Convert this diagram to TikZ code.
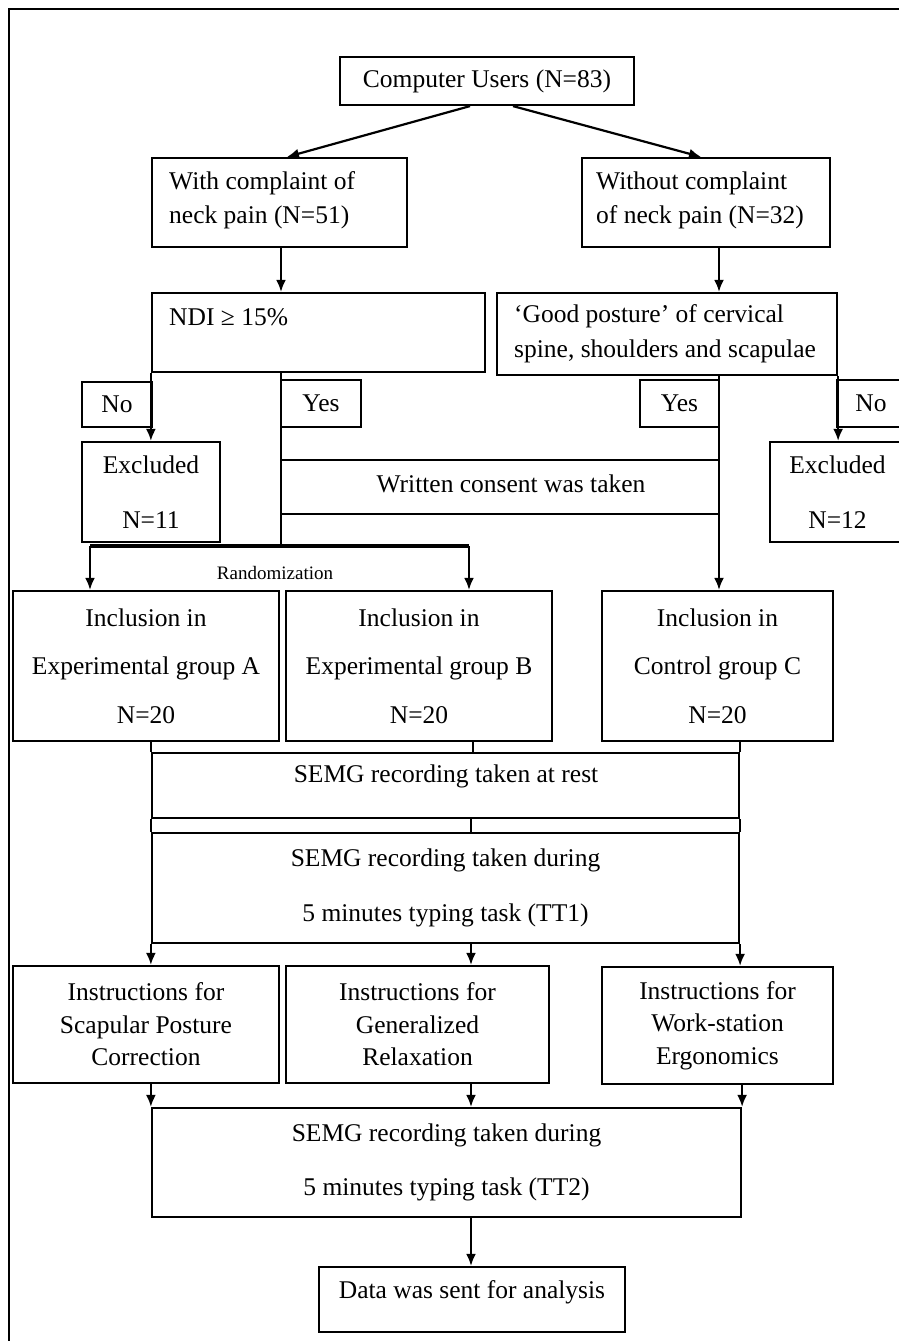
\documentclass[tikz,border=0pt]{standalone}
\usepackage{fontspec}
\setmainfont{Liberation Serif}
\usetikzlibrary{arrows.meta}
\begin{document}
\begin{tikzpicture}[x=1pt,y=-1pt,
  box/.style={draw, line width=2.2pt, inner sep=0pt, align=center, font=\fontsize{25.5}{30}\selectfont},
  ln/.style={line width=2.2pt},
  arr/.style={line width=2.2pt, -{Latex[length=12pt,width=10pt]}},
  txt/.style={inner sep=0pt, font=\fontsize{25.5}{30}\selectfont},
]
\useasboundingbox (0,0) rectangle (899,1341);
\clip (0,0) rectangle (899,1341);
% frame
\draw[line width=2.5pt] (9,1350) -- (9,9) -- (910,9);

% top
\node[box, minimum width=294pt, minimum height=48pt] (cu) at (487,81) {Computer Users (N=83)};
\node[box, minimum width=255pt, minimum height=89pt] (wc) at (279.5,202.5) {};
\node[txt, anchor=west, align=left, font=\fontsize{25.5}{34}\selectfont] (wctx) at (169,200) {With complaint of\\neck pain (N=51)};
\node[box, minimum width=248pt, minimum height=89pt] (woc) at (706,202.5) {};
\node[txt, anchor=west, align=left, font=\fontsize{25.5}{34}\selectfont] (woctx) at (596,200) {Without complaint\\of neck pain (N=32)};

\node[box, minimum width=333pt, minimum height=79pt] (ndi) at (318.5,332.5) {};
\node[txt, anchor=west] (nditx) at (169,317) {NDI ≥ 15\%};
\node[box, minimum width=340pt, minimum height=82pt] (gp) at (667,334) {};
\node[txt, anchor=west, align=left, font=\fontsize{25.5}{35}\selectfont] (gptx) at (514,333.5) {‘Good posture’ of cervical\\spine, shoulders and scapulae};

\node[box, minimum width=70pt, minimum height=45pt] (noL) at (117,404.5) {No};
\node[box, minimum width=80pt, minimum height=47pt] (yesL) at (321,403.5) {Yes};
\node[box, minimum width=79pt, minimum height=47pt] (yesR) at (679.5,403.5) {Yes};
\node[box, minimum width=68pt, minimum height=47pt] (noR) at (871,403.5) {No};

\node[box, minimum width=138pt, minimum height=100pt, font=\fontsize{25.5}{55}\selectfont] (exL) at (151,492) {Excluded\\N=11};
\node[box, minimum width=135pt, minimum height=100pt, font=\fontsize{25.5}{55}\selectfont] (exR) at (837.5,492) {Excluded\\N=12};

\node[box, minimum width=438pt, minimum height=54pt] (wct) at (500,487) {};
\node[txt] (wcttx) at (511,484) {Written consent was taken};

\node[txt, font=\fontsize{19}{20}\selectfont] (rnd) at (275,573) {Randomization};

% inclusion
\node[box, minimum width=266pt, minimum height=150pt, font=\fontsize{25.5}{48.5}\selectfont] (incA) at (146,666) {Inclusion in\\Experimental group A\\N=20};
\node[box, minimum width=266pt, minimum height=150pt, font=\fontsize{25.5}{48.5}\selectfont] (incB) at (419,666) {Inclusion in\\Experimental group B\\N=20};
\node[box, minimum width=231pt, minimum height=150pt, font=\fontsize{25.5}{48.5}\selectfont] (incC) at (717.5,666) {Inclusion in\\Control group C\\N=20};

% SEMG
\node[box, minimum width=587pt, minimum height=65pt] (rest) at (445.5,785.5) {};
\node[txt] (resttx) at (446,776) {SEMG recording taken at rest};
\node[box, minimum width=587pt, minimum height=110pt, font=\fontsize{25.5}{55}\selectfont] (tt1) at (445.5,888) {SEMG recording taken during\\5 minutes typing task (TT1)};

% instructions
\node[box, minimum width=266pt, minimum height=117pt, font=\fontsize{25.5}{32.5}\selectfont] (insA) at (146,1024.5) {Instructions for\\Scapular Posture\\Correction};
\node[box, minimum width=263pt, minimum height=117pt, font=\fontsize{25.5}{32.5}\selectfont] (insB) at (417.5,1024.5) {Instructions for\\Generalized\\Relaxation};
\node[box, minimum width=231pt, minimum height=117pt, font=\fontsize{25.5}{32.5}\selectfont] (insC) at (717.5,1025.5) {Instructions for\\Work-station\\Ergonomics};

\node[box, minimum width=589pt, minimum height=109pt, font=\fontsize{25.5}{54}\selectfont] (tt2) at (446.5,1162.5) {SEMG recording taken during\\5 minutes typing task (TT2)};

\node[box, minimum width=306pt, minimum height=65pt] (data) at (472,1299.5) {};
\node[txt] (datatx) at (472,1292) {Data was sent for analysis};

% coordinates
\coordinate (colR) at (719,375);
\coordinate (rL) at (90,546);
\coordinate (rR) at (469,546);
\coordinate (rY) at (281,546);
\coordinate (mB) at (473,753);
\coordinate (mid) at (471,900);

% connectors
\draw[arr] ([xshift=-17pt]cu.south) -- ([xshift=7.5pt]wc.north);
\draw[arr] ([xshift=26pt]cu.south) -- ([xshift=-5pt]woc.north);
\draw[arr] (wc.south -| rY) -- (ndi.north -| rY);
\draw[arr] (woc.south -| colR) -- (gp.north -| colR);
\draw[arr] (ndi.south west) -- (ndi.south west |- exL.north);
\draw[ln] (ndi.south -| rY) -- (rY);
\draw[arr] (colR) -- (colR |- incC.north);
\draw[arr] (gp.south east) -- (gp.south east |- exR.north);
\draw[line width=3.5pt] (rL) -- (rR);
\draw[arr] (rL) -- (rL |- incA.north);
\draw[arr] (rR) -- (rR |- incB.north);

\draw[ln] (rest.north west |- incA.south) -- (rest.north west);
\draw[ln] (mB |- incB.south) -- (mB);
\draw[ln] (rest.north east |- incC.south) -- (rest.north east);
\draw[ln] (rest.south west) -- (tt1.north west);
\draw[ln] (rest.south -| mid) -- (tt1.north -| mid);
\draw[ln] (rest.south east) -- (tt1.north east);

\draw[arr] (tt1.south west) -- (tt1.south west |- insA.north);
\draw[arr] (tt1.south -| mid) -- (insB.north -| mid);
\draw[arr] (tt1.south east) -- (tt1.south east |- insC.north);

\draw[arr] (insA.south -| tt2.north west) -- (tt2.north west);
\draw[arr] (insB.south -| mid) -- (tt2.north -| mid);
\draw[arr] (insC.south -| tt2.north east) -- (tt2.north east);

\draw[arr] (tt2.south -| mid) -- (data.north -| mid);
\end{tikzpicture}
\end{document}
